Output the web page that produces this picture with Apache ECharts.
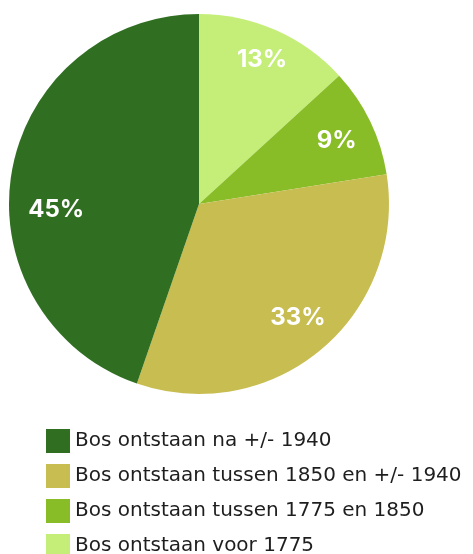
<!DOCTYPE html>
<html><head><meta charset="utf-8">
<script src="https://cdn.jsdelivr.net/npm/echarts@6/dist/echarts.min.js"></script>
<style>html,body{margin:0;padding:0;background:#fff;overflow:hidden}#c{width:473px;height:620px}</style>
</head><body><div id="c"></div>
<script>
const categories = ['Bos ontstaan voor 1775','Bos ontstaan tussen 1775 en 1850','Bos ontstaan tussen 1850 en +/- 1940','Bos ontstaan na +/- 1940'];
const values = [13.2, 9.3, 32.8, 44.7];
const colors = ['#c5ee79','#88bd27','#c8bd51','#306f22'];
const legendOrder = ['Bos ontstaan na +/- 1940','Bos ontstaan tussen 1850 en +/- 1940','Bos ontstaan tussen 1775 en 1850','Bos ontstaan voor 1775'];

const data = categories.map((n,i)=>({name:n, value:values[i], itemStyle:{color:colors[i]}}));
const chart = echarts.init(document.getElementById('c'), null, {renderer:'canvas'});
chart.setOption({
  animation:false,
  legend:{
    data: legendOrder, orient:'vertical', left:46, top:429, padding:0,
    itemWidth:24, itemHeight:24, itemGap:11, icon:'rect',
    textStyle:{fontFamily:'DejaVu Sans', fontSize:20, color:'#1e1e1e'},
    selectedMode:false
  },
  series:[
    {type:'pie', center:[199,204], radius:[0,190], startAngle:90, clockwise:true,
     data:data, label:{show:false}, labelLine:{show:false}, silent:true,
     itemStyle:{borderWidth:0}},
    {type:'pie', center:[199,204], radius:[112,190], startAngle:90, clockwise:true,
     data:categories.map((n,i)=>({name:n+' ', value:values[i], itemStyle:{color:'rgba(0,0,0,0)'}})),
     silent:true, labelLine:{show:false},
     labelLayout: p => p.dataIndex===3 ? {dx:9, dy:31} : (p.dataIndex===1 ? {dx:-1, dy:4} : (p.dataIndex===2 ? {dy:-4} : {dx:1, dy:-3})),
     label:{show:true, position:'inside', color:'#fff', fontFamily:'Inter', fontWeight:'bold', fontSize:24,
       formatter:p=>Math.round(p.value)+'%'}}
  ]
});
</script></body></html>
